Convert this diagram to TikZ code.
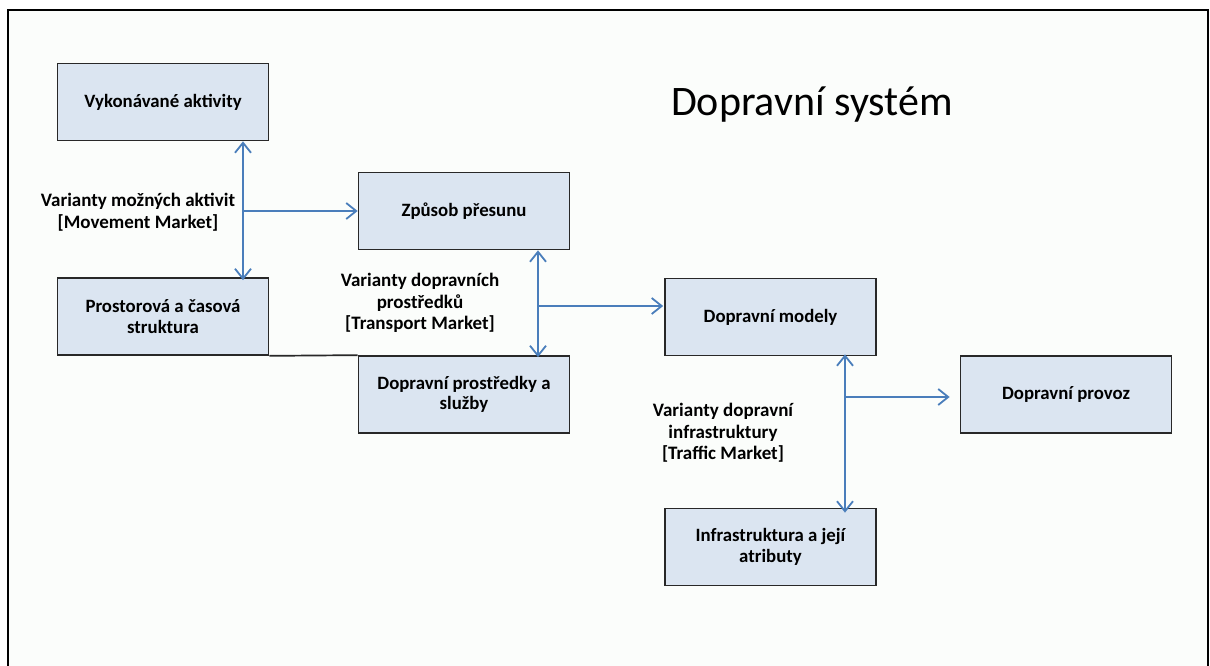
\documentclass[tikz,border=0pt]{standalone}
\usepackage{fontspec}
\setmainfont{Carlito}
\usetikzlibrary{arrows.meta}

\definecolor{boxfill}{RGB}{219,229,241}
\definecolor{boxline}{RGB}{40,40,40}
\definecolor{arrowblue}{RGB}{74,126,187}
\definecolor{paper}{RGB}{251,253,251}

\tikzset{
    block/.style={draw=boxline, line width=1.7pt, fill=boxfill, align=center,
        minimum width=211pt, minimum height=77pt, inner sep=0pt,
        font=\bfseries\fontsize{18.8}{20.5}\selectfont},
    market/.style={align=center, inner sep=0pt,
        font=\bfseries\fontsize{19}{21.5}\selectfont},
    flow/.style={draw=arrowblue, line width=1.8pt,
        arrows={Straight Barb[length=10pt,width=16pt]-Straight Barb[length=10pt,width=16pt]}},
    flowto/.style={draw=arrowblue, line width=1.8pt,
        arrows={-Straight Barb[length=10pt,width=16pt]}}
}

\begin{document}
\begin{tikzpicture}[x=1pt,y=-1pt]
    % Picture size and the open frame (no bottom edge)
    \useasboundingbox (0,0) rectangle (1210,666);
    \fill[paper] (8,10) rectangle (1208,666);
    \draw[line width=1.4pt] (8,666) -- (8,10) -- (1208,10) -- (1208,666);

    % Title
    \node[font=\fontsize{42}{46}\selectfont] (title) at (812,105) {Dopravní systém};

    % Boxes
    \node[block] (act) at (163,102) {Vykonávané aktivity};
    \node[block] (space) at (163,316.5) {Prostorová a časová\\struktura};
    \node[block] (mode) at (464,211) {Způsob přesunu};
    \node[block] (veh) at (464,394.5) {Dopravní prostředky a\\služby};
    \node[block] (models) at (770.5,317) {Dopravní modely};
    \node[block] (traffic) at (1066,394.5) {Dopravní provoz};
    \node[block] (infra) at (770.5,547) {Infrastruktura a její\\atributy};

    % Line joining the two lower boxes
    \draw[boxline, line width=1.7pt] (space.south east) -- (veh.north west);

    % Branch points of the arrows
    \coordinate (j1) at (243,211);
    \coordinate (j2) at (538,306);
    \coordinate (j3) at (845,397);

    % Movement market
    \draw[flow] (act.south -| j1) -- ([yshift=-3pt]space.north -| j1);
    \draw[flowto] (j1) -- (mode.west |- j1);

    % Transport market
    \draw[flow] (mode.south -| j2) -- ([yshift=-2pt]veh.north -| j2);
    \draw[flowto] (j2) -- ([xshift=-1pt]models.west |- j2);

    % Traffic market
    \draw[flow] ([yshift=2pt]models.south -| j3) -- ([yshift=-5pt]infra.north -| j3);
    \draw[flowto] (j3) -- ([xshift=-10pt]traffic.west |- j3);

    % Labels
    \node[market] (lab1) at (138,212) {Varianty možných aktivit\\{[}Movement Market{]}};
    \node[market] (lab2) at (420,303) {Varianty dopravních\\prostředků\\{[}Transport Market{]}};
    \node[market] (lab3) at (723,433) {Varianty dopravní\\infrastruktury\\{[}Traffic Market{]}};
\end{tikzpicture}
\end{document}
